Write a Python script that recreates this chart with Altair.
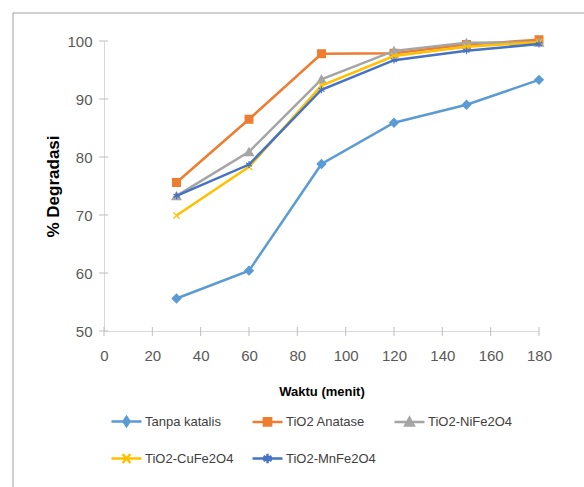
import altair as alt
import pandas as pd

# ---- data ----
time_min = [30, 60, 90, 120, 150, 180]
series_names = ["Tanpa katalis", "TiO2 Anatase", "TiO2-NiFe2O4", "TiO2-CuFe2O4", "TiO2-MnFe2O4"]
tanpa_katalis = [55.6, 60.4, 78.8, 85.9, 89.0, 93.3]
tio2_anatase = [75.6, 86.5, 97.8, 97.9, 99.4, 100.2]
tio2_nife2o4 = [73.3, 80.9, 93.4, 98.3, 99.7, 99.8]
tio2_cufe2o4 = [69.9, 78.3, 92.3, 97.4, 99.0, 99.8]
tio2_mnfe2o4 = [73.3, 78.7, 91.6, 96.7, 98.3, 99.5]
series_values = [tanpa_katalis, tio2_anatase, tio2_nife2o4, tio2_cufe2o4, tio2_mnfe2o4]

x_ticks = [0, 20, 40, 60, 80, 100, 120, 140, 160, 180]
y_ticks = [50, 60, 70, 80, 90, 100]

# ---- styling ----
colors = ["#5B9BD5", "#ED7D31", "#A5A5A5", "#FFC000", "#4472C4"]
X_PATH = "M-1,-1L1,1M-1,1L1,-1"
AST_PATH = "M0,-1.1L0,1.1M-0.95,-0.55L0.95,0.55M-0.95,0.55L0.95,-0.55"
marker_shapes = ["diamond", "square", "triangle-up", X_PATH, AST_PATH]
marker_sizes = [75, 60, 80, 40, 40]
LINE = "M-1,0L1,0"
legend_shapes = [
    LINE + "M0,-0.3L0.2,0L0,0.3L-0.2,0Z",
    LINE + "M-0.24,-0.24L0.24,-0.24L0.24,0.24L-0.24,0.24Z",
    LINE + "M0,-0.28L0.28,0.22L-0.28,0.22Z",
    LINE + "M-0.26,-0.3L0.26,0.3M-0.26,0.3L0.26,-0.3",
    LINE + "M0,-0.32L0,0.32M-0.27,-0.16L0.27,0.16M-0.27,0.16L0.27,-0.16",
]

FONT = "Liberation Sans"
W, H = 435, 290

rows = []
for name, vals in zip(series_names, series_values):
    for t, v in zip(time_min, vals):
        rows.append({"series": name, "t": t, "v": v})
df = pd.DataFrame(rows)

xscale = alt.Scale(domain=[0, 180], nice=False, zero=False)
yscale = alt.Scale(domain=[50, 100], nice=False, zero=False)

x_axis = alt.Axis(values=x_ticks, ticks=False, grid=False, domainColor="#d9d9d9",
                  domainWidth=1, labelFont=FONT, labelFontSize=15, labelColor="#595959",
                  labelPadding=17, title="Waktu (menit)", titleFont=FONT, titleFontSize=13,
                  titleFontWeight="bold", titleColor="#000000", titleX=W / 2, titleY=54,
                  titleBaseline="top", labelFlush=False)
y_axis = alt.Axis(values=y_ticks, ticks=False, grid=False, domainColor="#d9d9d9",
                  domainWidth=1, labelFont=FONT, labelFontSize=15, labelColor="#595959",
                  labelPadding=12, title="% Degradasi", titleFont=FONT, titleFontSize=17,
                  titleFontWeight="bold", titleColor="#000000", titleX=-42, titleY=H / 2,
                  titleAngle=270, titleBaseline="bottom", labelFlush=False)

X = alt.X("t:Q", scale=xscale, axis=x_axis)
Y = alt.Y("v:Q", scale=yscale, axis=y_axis)

layers = []

# frame of the original chart box
frame_df = pd.DataFrame({"k": [0]})
layers.append(alt.Chart(frame_df).mark_rule(color="#a0a0a0", strokeWidth=1).encode(
    x=alt.value(-91), y=alt.value(-28), y2=alt.value(H + 200)))
layers.append(alt.Chart(frame_df).mark_rule(color="#a0a0a0", strokeWidth=1).encode(
    x=alt.value(-91), x2=alt.value(W + 100), y=alt.value(-28)))

# crossing tick marks
xt = pd.DataFrame({"t": x_ticks})
yt = pd.DataFrame({"v": y_ticks})
layers.append(alt.Chart(xt).mark_rule(color="#bfbfbf", strokeWidth=1).encode(
    x=X, y=alt.value(H - 4), y2=alt.value(H + 5)))
layers.append(alt.Chart(yt).mark_rule(color="#bfbfbf", strokeWidth=1).encode(
    y=Y, x=alt.value(-5), x2=alt.value(4)))

# series: line then markers
for name, col, shp, sz in zip(series_names, colors, marker_shapes, marker_sizes):
    base = alt.Chart(df).transform_filter(alt.datum.series == name)
    layers.append(base.mark_line(color=col, strokeWidth=2.5).encode(x=X, y=Y))
    layers.append(base.mark_point(filled=True, shape=shp, size=sz, color=col, stroke=col,
                                  strokeWidth=1.2, opacity=1).encode(x=X, y=Y))

# legend carrier (no data drawn)
leg = alt.Legend(orient="none", legendX=6, legendY=364, columns=3, direction="horizontal",
                 title=None, symbolSize=900, symbolStrokeWidth=2.5, symbolOpacity=1,
                 labelFont=FONT, labelFontSize=13, labelColor="#404040",
                 labelOffset=2, columnPadding=13, rowPadding=11, padding=0)
layers.append(
    alt.Chart(df).transform_filter("false").mark_point(filled=True, strokeWidth=2.5).encode(
        x=X, y=Y,
        color=alt.Color("series:N", scale=alt.Scale(domain=series_names, range=colors), legend=leg),
        stroke=alt.Stroke("series:N", scale=alt.Scale(domain=series_names, range=colors), legend=leg),
        shape=alt.Shape("series:N", scale=alt.Scale(domain=series_names, range=legend_shapes), legend=leg),
    )
)

chart = alt.layer(*layers).properties(
    width=W, height=H,
    autosize=alt.AutoSizeParams(type="none"),
    padding={"left": 104, "top": 41, "right": 45, "bottom": 156},
    background="white",
).configure_view(stroke=None)

chart.save("out.html", embed_options={"renderer": "svg", "actions": False})
